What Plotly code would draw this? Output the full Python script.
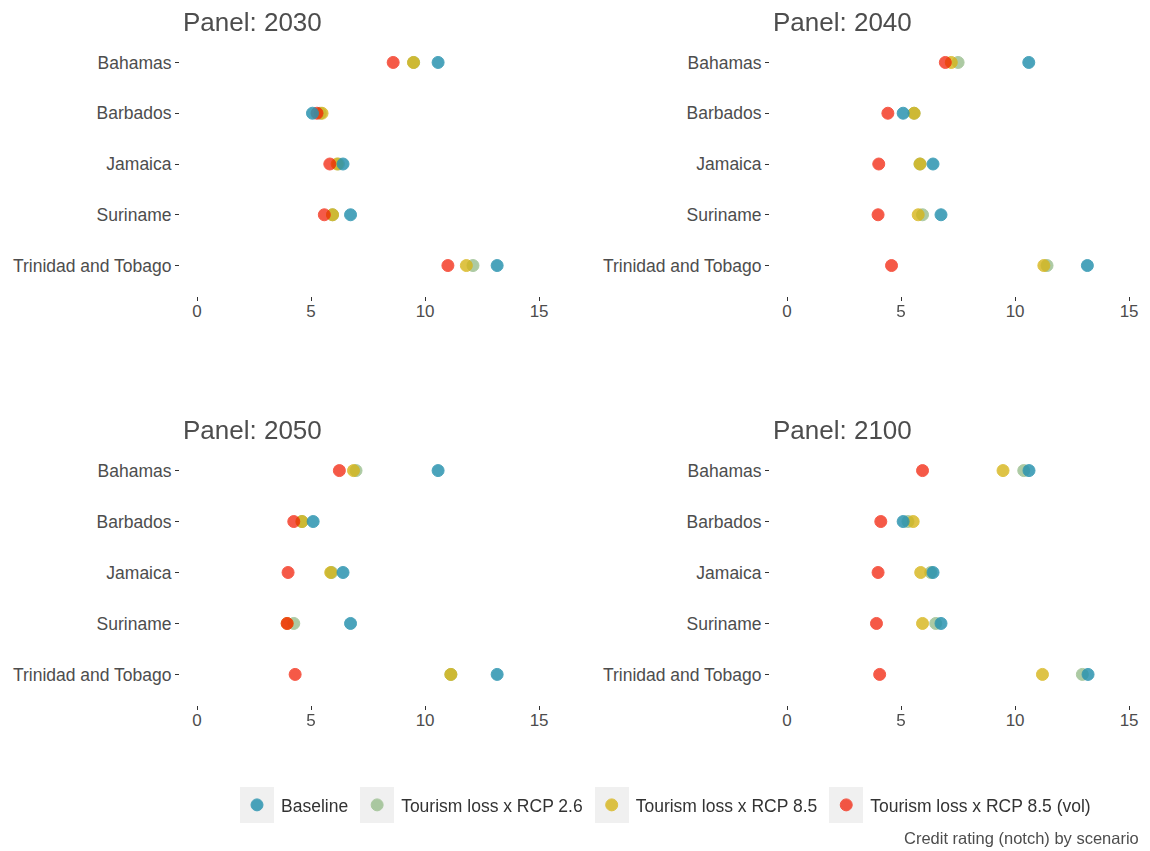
import plotly.graph_objects as go

countries = ["Bahamas", "Barbados", "Jamaica", "Suriname", "Trinidad and Tobago"]
panels = ["2030", "2040", "2050", "2100"]
scenarios = ["Tourism loss x RCP 2.6", "Tourism loss x RCP 8.5", "Tourism loss x RCP 8.5 (vol)", "Baseline"]
legend_order = ["Baseline", "Tourism loss x RCP 2.6", "Tourism loss x RCP 8.5", "Tourism loss x RCP 8.5 (vol)"]
x_ticks = [0, 5, 10, 15]

baseline_2030 = [10.57, 5.06, 6.40, 6.73, 13.16]
rcp26_2030 = [9.50, 5.40, 6.20, 5.94, 12.10]
rcp85_2030 = [9.49, 5.48, 6.14, 5.94, 11.81]
vol_2030 = [8.60, 5.26, 5.82, 5.58, 11.00]

baseline_2040 = [10.60, 5.09, 6.40, 6.75, 13.17]
rcp26_2040 = [7.50, 5.57, 5.83, 5.94, 11.40]
rcp85_2040 = [7.20, 5.57, 5.83, 5.75, 11.26]
vol_2040 = [6.94, 4.42, 4.02, 3.99, 4.58]

baseline_2050 = [10.57, 5.09, 6.40, 6.73, 13.16]
rcp26_2050 = [6.97, 4.60, 5.90, 4.24, 11.13]
rcp85_2050 = [6.86, 4.60, 5.86, 3.95, 11.13]
vol_2050 = [6.24, 4.24, 3.99, 3.95, 4.30]

baseline_2100 = [10.61, 5.09, 6.40, 6.75, 13.20]
rcp26_2100 = [10.38, 5.30, 6.30, 6.52, 12.95]
rcp85_2100 = [9.47, 5.53, 5.86, 5.94, 11.20]
vol_2100 = [5.94, 4.11, 3.99, 3.92, 4.06]

data = {
    "2030": {"Baseline": baseline_2030, "Tourism loss x RCP 2.6": rcp26_2030,
             "Tourism loss x RCP 8.5": rcp85_2030, "Tourism loss x RCP 8.5 (vol)": vol_2030},
    "2040": {"Baseline": baseline_2040, "Tourism loss x RCP 2.6": rcp26_2040,
             "Tourism loss x RCP 8.5": rcp85_2040, "Tourism loss x RCP 8.5 (vol)": vol_2040},
    "2050": {"Baseline": baseline_2050, "Tourism loss x RCP 2.6": rcp26_2050,
             "Tourism loss x RCP 8.5": rcp85_2050, "Tourism loss x RCP 8.5 (vol)": vol_2050},
    "2100": {"Baseline": baseline_2100, "Tourism loss x RCP 2.6": rcp26_2100,
             "Tourism loss x RCP 8.5": rcp85_2100, "Tourism loss x RCP 8.5 (vol)": vol_2100},
}

colors = {
    "Baseline": "#2A93AF",
    "Tourism loss x RCP 2.6": "#98BD8C",
    "Tourism loss x RCP 8.5": "#D6B418",
    "Tourism loss x RCP 8.5 (vol)": "#F21A00",
}
opac = {
    "Baseline": 0.85,
    "Tourism loss x RCP 2.6": 0.8,
    "Tourism loss x RCP 8.5": 0.8,
    "Tourism loss x RCP 8.5 (vol)": 0.72,
}
legend_rank = {s: i for i, s in enumerate(legend_order)}

# the page has an 8px body margin; coordinates below are page pixels
OFF = 8
W, H = 1150 - 2 * OFF, 851 - OFF
def fx(px):
    return (px - OFF) / W
def fy(py):
    return 1 - (py - OFF) / H

FONT = "Liberation Sans, Arial, sans-serif"
TXT = "#4D4D4D"

PX_PER_UNIT = 22.8
# page-pixel boxes of the four panels (left, right, top, bottom)
boxes = [(180, 556, 32, 296), (770, 1142, 32, 296), (180, 556, 440, 705), (770, 1142, 440, 705)]

fig = go.Figure()
layout = {}
for i, (p, (l, r, t, b)) in enumerate(zip(panels, boxes)):
    n = "" if i == 0 else str(i + 1)
    for s in scenarios:
        fig.add_trace(go.Scatter(
            x=data[p][s], y=countries, mode="markers", name=s,
            xaxis="x" + n, yaxis="y" + n,
            marker=dict(size=12, color=colors[s], line=dict(width=1, color=colors[s])),
            opacity=opac[s],
            showlegend=(i == 0), legendrank=legend_rank[s] + 1,
        ))
    xmin = -0.75
    xmax = xmin + (r - l) / PX_PER_UNIT
    layout["xaxis" + n] = dict(
        domain=[fx(l), fx(r)], anchor="y" + n, range=[xmin, xmax],
        tickvals=x_ticks, ticks="outside", ticklen=4, tickwidth=1.3, tickcolor="#333333",
        showgrid=False, zeroline=False, showline=False, ticklabelstandoff=-4,
        tickfont=dict(size=17, color=TXT, family=FONT),
    )
    layout["yaxis" + n] = dict(
        domain=[fy(b), fy(t)], anchor="x" + n, type="category",
        categoryorder="array", categoryarray=countries, range=[4.6, -0.6],
        ticks="outside", ticklen=4, tickwidth=1.3, tickcolor="#333333",
        showgrid=False, zeroline=False, showline=False,
        tickfont=dict(size=17.5, color=TXT, family=FONT),
    )
    fig.add_annotation(
        text="Panel: " + p, xref="paper", yref="paper", x=fx(l + 1), y=fy(t - 10),
        xanchor="left", yanchor="middle", showarrow=False,
        font=dict(size=26, color=TXT, family=FONT),
    )

# grey legend key backgrounds (ggplot style)
for kx in [257, 377, 612, 846]:
    fig.add_shape(type="rect", xref="paper", yref="paper",
                  x0=fx(kx - 17), x1=fx(kx + 17), y0=fy(823), y1=fy(787),
                  fillcolor="#F0F0F0", line=dict(width=0), layer="below")

fig.add_annotation(
    text="Credit rating (notch) by scenario", xref="paper", yref="paper",
    x=fx(1141), y=fy(838), xanchor="right", yanchor="middle", showarrow=False,
    font=dict(size=16.5, color=TXT, family=FONT),
)

fig.update_layout(
    width=W, height=H, margin=dict(l=0, r=0, t=0, b=0),
    paper_bgcolor="white", plot_bgcolor="white",
    font=dict(family=FONT, color=TXT),
    legend=dict(orientation="h", x=fx(233), y=fy(805), xanchor="left", yanchor="middle",
                font=dict(size=17.5, color="#333333", family=FONT),
                itemwidth=38, bgcolor="rgba(0,0,0,0)", traceorder="normal"),
    **layout,
)

fig.write_html("out.html")
